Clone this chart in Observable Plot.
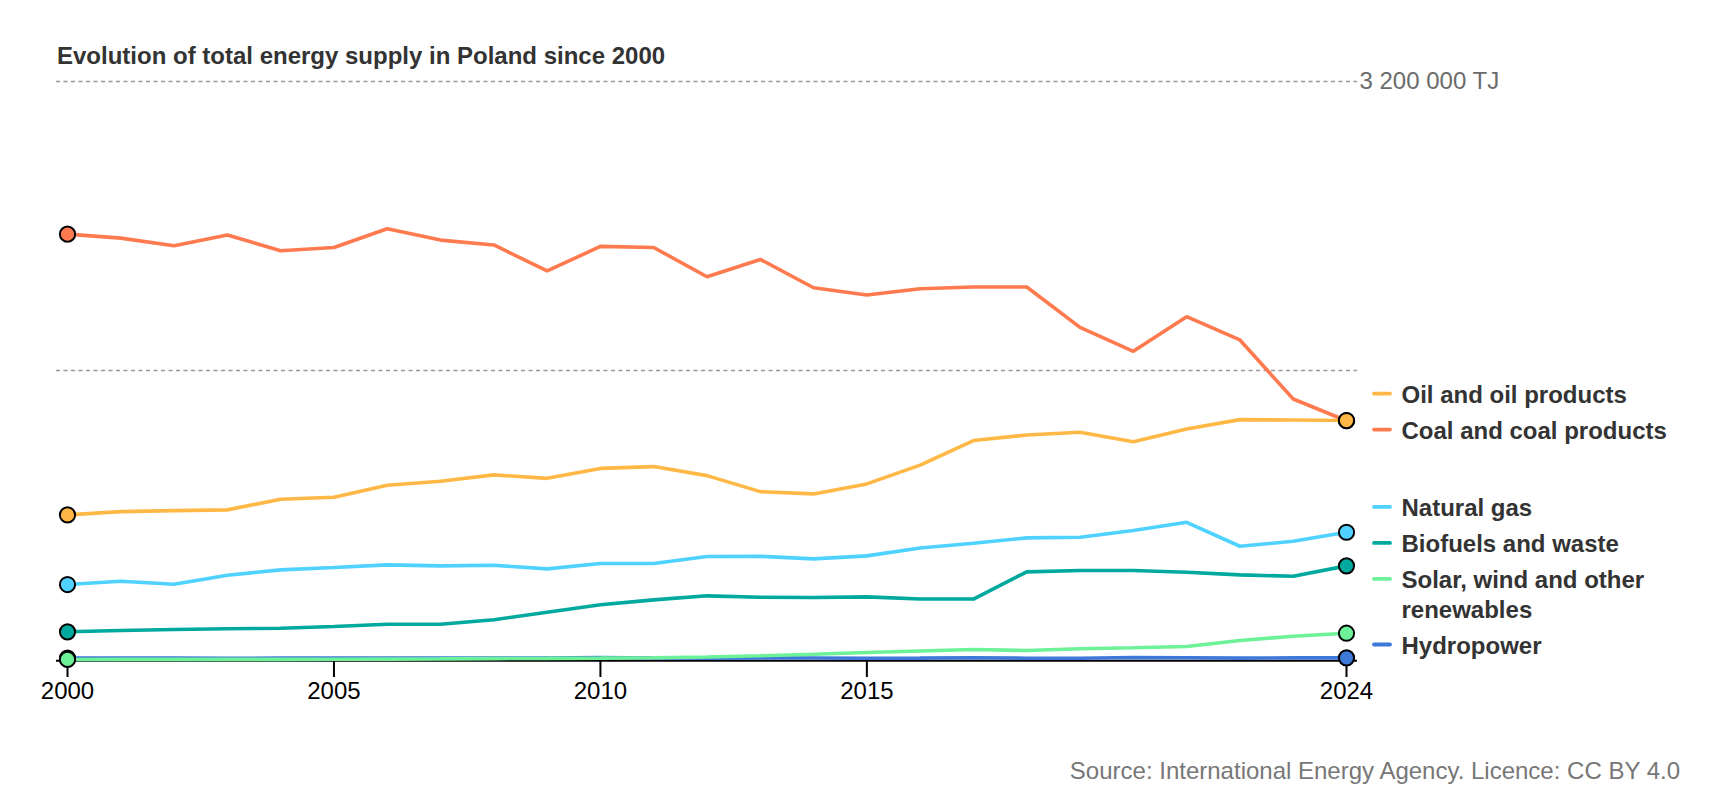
<!DOCTYPE html>
<html>
<head>
<meta charset="utf-8">
<script src="https://cdn.jsdelivr.net/npm/d3@7"></script>
<script src="https://cdn.jsdelivr.net/npm/@observablehq/plot@0.6"></script>
<style>
  body { margin: 0; background: #fff; font-family: "Liberation Sans", Arial, sans-serif; }
  #wrap { width: 1720px; height: 800px; overflow: hidden; }
  #title { box-sizing: border-box; height: 70px; padding: 44px 0 0 57px; font-size: 24px; line-height: 24px; font-weight: bold; color: #333; }
  #chart svg { display: block; overflow: visible; }
  #caption { margin-top: 39px; padding-right: 40px; text-align: right; font-size: 24px; line-height: 24px; color: #777; }
</style>
</head>
<body>
<div id="wrap">
  <div id="title">Evolution of total energy supply in Poland since 2000</div>
  <div id="chart"></div>
  <div id="caption">Source: International Energy Agency. Licence: CC BY 4.0</div>
</div>
<script>
// ---- data (TJ) ----
const years = [2000, 2001, 2002, 2003, 2004, 2005, 2006, 2007, 2008, 2009, 2010, 2011, 2012,
               2013, 2014, 2015, 2016, 2017, 2018, 2019, 2020, 2021, 2022, 2023, 2024];
const coal = [2355000, 2333000, 2291000, 2350000, 2263000, 2281000, 2385000, 2322000, 2295000, 2151000,
              2287000, 2281000, 2119000, 2215000, 2058000, 2018000, 2053000, 2062000, 2062000, 1839000,
              1706000, 1898000, 1769000, 1442000, 1322000];
const oil = [800600, 818900, 824400, 828300, 887000, 898000, 964400, 986500, 1022000, 1003000,
             1058000, 1068000, 1018000, 929500, 916800, 972100, 1076000, 1212000, 1243000, 1258000,
             1205000, 1276000, 1328000, 1326000, 1323000];
const gas = [415000, 433000, 416600, 466400, 496300, 509000, 524000, 518400, 521800, 501800,
             531200, 531200, 569900, 571600, 557200, 573800, 616900, 643500, 673400, 676700,
             713800, 759700, 626900, 654600, 704400];
const biofuels = [153300, 160500, 166000, 169900, 173200, 182600, 195300, 195300, 219700, 261700,
                  302700, 330300, 352500, 344700, 343000, 346900, 334700, 334700, 485300, 492400,
                  492400, 483000, 468600, 460900, 518400];
const hydro = [7500, 8400, 8200, 6100, 7500, 7900, 7400, 8400, 7700, 8600, 10500, 8400, 7300,
               8800, 7900, 6600, 7600, 9600, 7000, 7000, 10700, 9700, 7400, 9000, 9200];
const solarWind = [400, 500, 600, 700, 900, 1300, 2300, 3200, 5000, 6200, 7500, 9500, 14000,
                   20500, 29000, 38700, 47000, 55300, 49800, 59200, 64700, 71900, 105000, 129000, 145500];

const seriesNames = ["Coal and coal products", "Oil and oil products", "Natural gas",
                     "Biofuels and waste", "Hydropower", "Solar, wind and other renewables"];
const seriesValues = [coal, oil, gas, biofuels, hydro, solarWind];
const seriesColors = ["#ff7a4f", "#ffb845", "#4fd2ff", "#00a99d", "#3e78d8", "#6df199"];
const legendOrder = ["Oil and oil products", "Coal and coal products", "Natural gas",
                     "Biofuels and waste", "Solar, wind and other renewables", "Hydropower"];
const legendLabels = {"Solar, wind and other renewables": "Solar, wind and other\nrenewables"};

const xTicks = [2000, 2005, 2010, 2015, 2024];
const gridValues = [1600000, 3200000];
const labelledGrid = [3200000];

// ---- build table ----
const rows = [];
seriesNames.forEach((s, i) => years.forEach((y, j) => rows.push({series: s, year: y, value: seriesValues[i][j]})));
const endpoints = rows.filter(d => d.year === years[0] || d.year === years[years.length - 1]);

// ---- layout ----
const W = 1720, H = 650;
const mL = 67, mR = 374, mT = 11, mB = 61;
const yDomain = [0, 3200000];
const yRange = [H - mB, mT];
const ys = Plot.scale({y: {domain: yDomain, range: yRange}});

const fmt = d3.formatLocale({decimal: ".", thousands: " ", grouping: [3], currency: ["", ""]}).format(",");

// legend label dodge (pixel space)
const fontPx = 24, lineH = 29.6, gap = 6.4, shift = -9;
const bottomBound = ys.apply(0) + 3;
const lastYear = years[years.length - 1];
let items = legendOrder.map((name, k) => {
  const i = seriesNames.indexOf(name);
  const label = legendLabels[name] || name;
  const n = label.split("\n").length;
  const h = n * lineH + gap;
  const first = ys.apply(seriesValues[i][seriesValues[i].length - 1]) + shift;
  return {name, label, n, h, k, target: first + (n - 1) * lineH / 2};
});
items.sort((a, b) => a.target - b.target || a.k - b.k);
const clusters = [];
function place(c) {
  let off = 0, acc = 0;
  c.items.forEach(it => { it.off = off + it.h / 2; acc += it.target - it.off; off += it.h; });
  c.h = off;
  c.top = Math.min(acc / c.items.length, bottomBound - c.h);
}
for (const it of items) {
  const c = {items: [it]};
  place(c);
  clusters.push(c);
  while (clusters.length > 1) {
    const b = clusters[clusters.length - 1], a = clusters[clusters.length - 2];
    if (a.top + a.h > b.top) {
      clusters.pop(); clusters.pop();
      const m = {items: a.items.concat(b.items)};
      place(m);
      clusters.push(m);
    } else break;
  }
}
clusters.forEach(c => c.items.forEach(it => {
  it.center = c.top + it.off;
  it.firstLine = it.center - (it.n - 1) * lineH / 2;
}));

const plot = Plot.plot({
  width: W,
  height: H,
  marginLeft: mL,
  marginRight: mR,
  marginTop: mT,
  marginBottom: mB,
  style: {fontFamily: "'Liberation Sans', Arial, sans-serif", fontSize: "24px", background: "transparent", overflow: "visible"},
  x: {domain: [years[0], lastYear], axis: null},
  y: {domain: yDomain, range: yRange, axis: null},
  color: {domain: seriesNames, range: seriesColors},
  marks: [
    Plot.ruleY(gridValues, {stroke: "#999", strokeWidth: 1.6, strokeDasharray: "4,3.5", insetLeft: -11, insetRight: -11}),
    Plot.text(labelledGrid, {x: () => lastYear, y: d => d, text: d => fmt(d) + " TJ", dx: 13, textAnchor: "start", fill: "#6b6b6b", fontSize: 24}),
    Plot.ruleY([0], {stroke: "#000", strokeWidth: 2, dy: 1.3, insetLeft: -11, insetRight: -11}),
    Plot.axisX(xTicks, {tickSize: 18, tickPadding: 4, tickFormat: d => String(d), fontSize: 24, strokeWidth: 2, label: null, fill: "#000", stroke: "#000"}),
    Plot.line(rows, {x: "year", y: "value", z: "series", stroke: "series", strokeWidth: 3.6, strokeLinejoin: "miter"}),
    Plot.dot(endpoints, {x: "year", y: "value", fill: "series", stroke: "#000", strokeWidth: 2, r: 7.6}),
    Plot.ruleY(items, {y: d => ys.invert(d.firstLine), x1: () => lastYear, x2: () => lastYear, insetLeft: 28, insetRight: -44,
      stroke: d => d.name, strokeWidth: 3.8, strokeLinecap: "round"}),
    Plot.text(items, {x: () => lastYear, y: d => ys.invert(d.center), text: "label", dx: 55, textAnchor: "start",
      lineAnchor: "middle", lineHeight: lineH / fontPx, fontSize: fontPx, fontWeight: "bold", fill: "#333"})
  ]
});
document.getElementById("chart").appendChild(plot);
</script>
</body>
</html>
